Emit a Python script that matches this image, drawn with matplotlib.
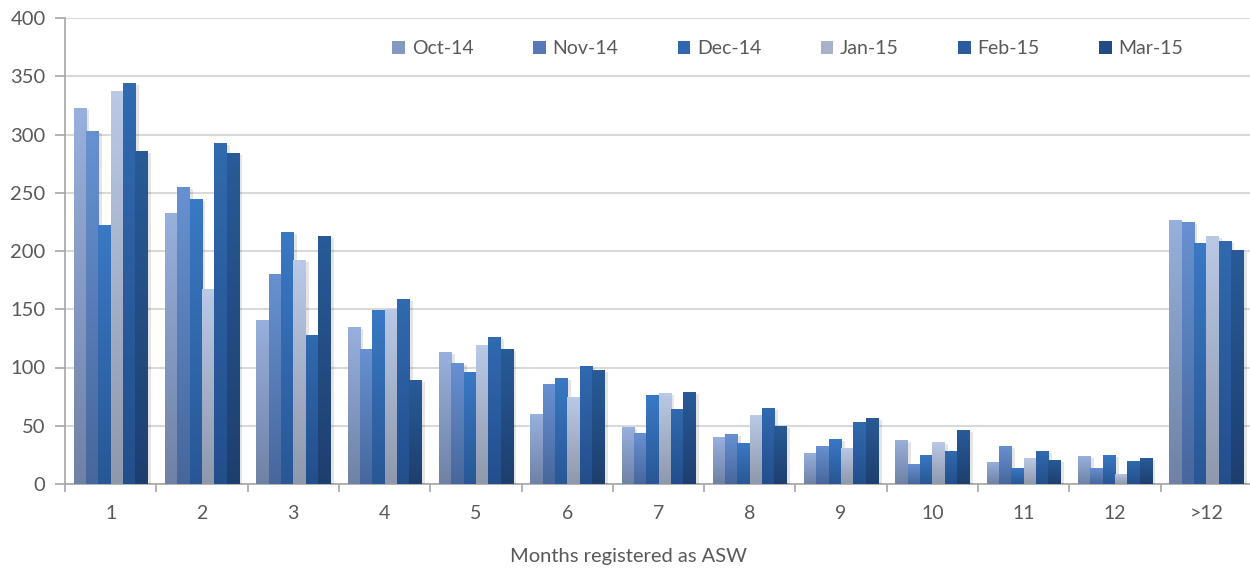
import numpy as np
import matplotlib
matplotlib.use("Agg")
import matplotlib.pyplot as plt
from matplotlib.colors import LinearSegmentedColormap
import matplotlib.patheffects as pe

plt.rcParams['font.family'] = ['Lato', 'DejaVu Sans']

categories = ["1", "2", "3", "4", "5", "6", "7", "8", "9", "10", "11", "12", ">12"]
series_names = ["Oct-14", "Nov-14", "Dec-14", "Jan-15", "Feb-15", "Mar-15"]
oct14 = [323, 233, 141, 135, 113, 60, 49, 40, 27, 38, 19, 24, 227]
nov14 = [303, 255, 180, 116, 104, 86, 44, 43, 33, 17, 33, 14, 225]
dec14 = [222, 245, 216, 149, 96, 91, 76, 35, 39, 25, 14, 25, 207]
jan15 = [337, 167, 192, 150, 119, 75, 78, 59, 31, 36, 22, 9, 213]
feb15 = [344, 293, 128, 159, 126, 101, 64, 65, 53, 28, 28, 20, 209]
mar15 = [286, 284, 213, 89, 116, 98, 79, 50, 57, 46, 21, 22, 201]
series = [oct14, nov14, dec14, jan15, feb15, mar15]

# (top colour, bottom colour) gradient per series
grad = [("#98B0DD", "#6F82A5"),
        ("#6891D2", "#47679C"),
        ("#3A79C5", "#285794"),
        ("#B9C9E6", "#8F98AC"),
        ("#316AB0", "#234E8C"),
        ("#285B98", "#1D3F6E")]
mid = ["#8499C2", "#5779B8", "#3167AE", "#A6B2CA", "#2A5C9E", "#224D84"]

fig = plt.figure(figsize=(12.5, 5.7), dpi=100)
ax = fig.add_axes([65/1250, 1-484/570, (1252-65)/1250, (484-18)/570])

n = len(series)
x = np.arange(len(categories))
group_w = 0.81
bw = group_w / n

g = np.linspace(0, 1, 256).reshape(-1, 1)
for i, (vals, (ctop, cbot)) in enumerate(zip(series, grad)):
    cmap = LinearSegmentedColormap.from_list(f"g{i}", [cbot, ctop])
    offs = (i - (n - 1) / 2) * bw
    bars = ax.bar(x + offs, vals, width=bw, color=mid[i], zorder=3,
                  label=series_names[i], linewidth=0)
    for b in bars:
        b.set_path_effects([pe.SimplePatchShadow(offset=(2.5, -1.5), shadow_rgbFace="#000000", alpha=0.10),
                            pe.Normal()])
        x0 = b.get_x()
        w, h = b.get_width(), b.get_height()
        im = ax.imshow(g, cmap=cmap, origin="lower", aspect="auto",
                       extent=(x0, x0 + w, 0, h), vmin=0, vmax=1, zorder=4,
                       interpolation="bilinear")
        im.set_clip_path(b)

ax.set_xlim(-0.5, len(categories) - 0.5)
ax.set_ylim(0, 400)

# gridlines
ax.set_yticks(np.arange(0, 401, 50))
ax.yaxis.grid(True, color="#D9D9D9", linewidth=1.5, zorder=0)
ax.set_axisbelow(True)

for s in ["top", "right"]:
    ax.spines[s].set_visible(False)
ax.spines["left"].set_color("#A6A6A6")
ax.spines["bottom"].set_color("#A6A6A6")
ax.spines["left"].set_linewidth(1.2)
ax.spines["bottom"].set_linewidth(1.2)

ax.set_xticks(x)
ax.set_xticklabels(categories)
ax.set_xticks(np.arange(-0.5, len(categories) + 0.5, 1), minor=True)
ax.tick_params(axis="x", which="major", length=0, pad=15, labelsize=14, labelcolor="#595959")
ax.tick_params(axis="x", which="minor", length=6, width=1.2, color="#A6A6A6", direction="out")
ax.tick_params(axis="y", length=7, width=1.2, color="#A6A6A6", direction="out",
               labelsize=14.5, labelcolor="#595959", pad=7)

ax.set_xlabel("Months registered as ASW", fontsize=14.5, color="#595959", labelpad=19,
              x=(628-65)/1187)

handles, labels = ax.get_legend_handles_labels()
leg = ax.legend(handles, labels, ncol=6, frameon=False, loc="upper left",
                bbox_to_anchor=((375-65)/1187, 1-(23-18)/466),
                fontsize=14, handlelength=0.65, handleheight=0.65,
                handletextpad=0.35, columnspacing=3.05, labelcolor="#595959")
for h in leg.legend_handles:
    h.set_path_effects([])

fig.savefig("out.png", dpi=100)
